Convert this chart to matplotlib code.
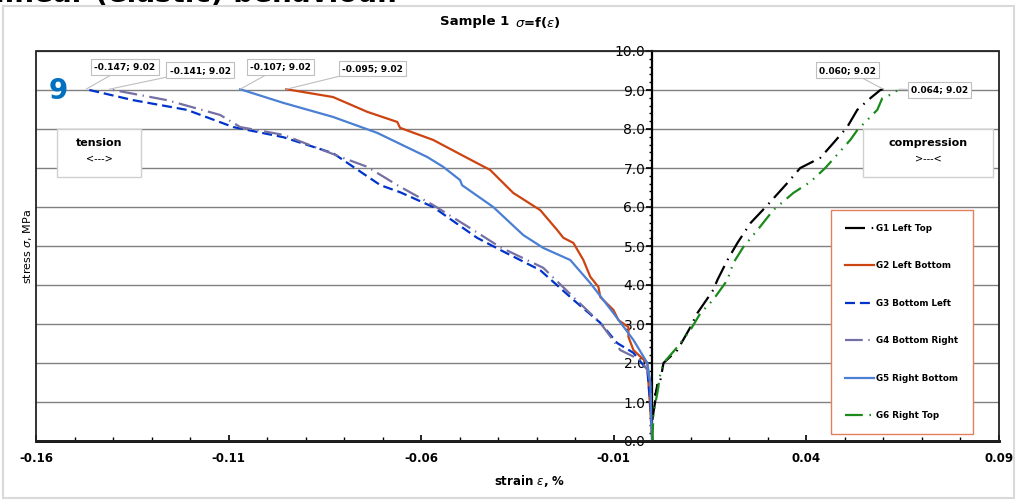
import matplotlib.pyplot as plt
import numpy as np
from matplotlib.patches import Rectangle

# strain (%) / stress (MPa) per gauge
g1_x = [0.0, 0.0008, 0.0013, 0.0008, 0.0021, 0.0029, 0.0065, 0.0099, 0.0117, 0.0158, 0.0169, 0.0195,
        0.0221, 0.0255, 0.0299, 0.0351, 0.0384, 0.0436, 0.0470, 0.0506, 0.0532, 0.0566, 0.0592, 0.060]
g1_y = [0.54, 1.05, 1.44, 1.18, 1.56, 2.0, 2.33, 2.92, 3.28, 3.87, 4.13, 4.64,
        5.08, 5.59, 6.05, 6.62, 7.0, 7.26, 7.64, 8.05, 8.49, 8.79, 9.0, 9.02]

g2_x = [0.0, -0.0010, -0.0013, -0.0049, -0.0062, -0.0062, -0.0088, -0.0101, -0.0135, -0.0140, -0.0161,
        -0.0179, -0.0205, -0.0231, -0.0247, -0.0291, -0.0361, -0.0421, -0.0481, -0.0569, -0.0655,
        -0.0662, -0.0740, -0.0829, -0.095]
g2_y = [0.0, 1.49, 2.0, 2.33, 2.67, 2.92, 3.10, 3.36, 3.69, 3.95, 4.21,
        4.64, 5.08, 5.21, 5.41, 5.92, 6.36, 6.95, 7.26, 7.72, 8.03,
        8.18, 8.44, 8.82, 9.02]

g3_x = [0.0, -0.0005, -0.0010, -0.0013, -0.0049, -0.0091, -0.0135, -0.0205, -0.0291, -0.0395, -0.0455,
        -0.0569, -0.0655, -0.0706, -0.0829, -0.0958, -0.1088, -0.1208, -0.1348, -0.147]
g3_y = [0.0, 0.97, 1.49, 1.82, 2.26, 2.51, 3.03, 3.62, 4.38, 4.90, 5.21,
        6.0, 6.38, 6.56, 7.38, 7.79, 8.05, 8.49, 8.74, 9.02]

g4_x = [0.0, -0.0003, -0.0005, -0.0013, -0.0031, -0.0083, -0.0135, -0.0205, -0.0283, -0.0395, -0.0465,
        -0.0569, -0.0662, -0.0740, -0.0803, -0.0958, -0.1070, -0.1122, -0.1260, -0.141]
g4_y = [0.0, 0.62, 1.49, 1.82, 2.08, 2.33, 3.03, 3.69, 4.44, 4.97, 5.41,
        6.05, 6.56, 7.03, 7.26, 7.85, 8.05, 8.36, 8.74, 9.02]

g5_x = [0.0, -0.0003, -0.0005, -0.0013, -0.0049, -0.0101, -0.0161, -0.0213, -0.0283, -0.0335, -0.0413,
        -0.0494, -0.0499, -0.0543, -0.0584, -0.0714, -0.0829, -0.0958, -0.107]
g5_y = [0.0, 0.62, 1.49, 2.0, 2.59, 3.28, 4.05, 4.64, 4.95, 5.28, 6.0,
        6.56, 6.69, 7.03, 7.28, 7.90, 8.31, 8.67, 9.02]

g6_x = [0.0, 0.0003, 0.0013, 0.0021, 0.0029, 0.0065, 0.0099, 0.0125, 0.0158, 0.0195, 0.0210, 0.0236,
        0.0273, 0.0314, 0.0366, 0.0410, 0.0449, 0.0514, 0.0532, 0.0558, 0.0584, 0.0597, 0.0623, 0.064]
g6_y = [0.0, 0.72, 1.23, 1.74, 2.0, 2.41, 2.85, 3.28, 3.62, 4.13, 4.56, 4.97,
        5.41, 5.92, 6.36, 6.64, 7.0, 7.72, 7.97, 8.23, 8.49, 8.79, 8.90, 9.02]

series = [
    ("G1 Left Top", g1_x, g1_y, "#000000", (0, (9, 3, 0.7, 3))),
    ("G2 Left Bottom", g2_x, g2_y, "#CC4411", "-"),
    ("G3 Bottom Left", g3_x, g3_y, "#0033CC", (0, (4.5, 2.2))),
    ("G4 Bottom Right", g4_x, g4_y, "#7470A4", (0, (8, 2.5, 0.6, 2.5))),
    ("G5 Right Bottom", g5_x, g5_y, "#4A7FD4", "-"),
    ("G6 Right Top", g6_x, g6_y, "#1A8A1A", (0, (8, 3, 0.7, 3, 0.7, 3))),
]
# label box centres for the end-point call-outs (data units)
label_pos = {
    "G1 Left Top": (0.0506, 9.51),
    "G2 Left Bottom": (-0.0727, 9.56),
    "G3 Bottom Left": (-0.1369, 9.59),
    "G4 Bottom Right": (-0.1174, 9.51),
    "G5 Right Bottom": (-0.0966, 9.59),
    "G6 Right Top": (0.0745, 9.0),
}

W, H = 1018, 500


def fx(px):
    return px / W


def fy(py):
    return 1 - py / H


fig = plt.figure(figsize=(10.18, 5.0), dpi=100)
ax = fig.add_axes([fx(36), fy(441), fx(999) - fx(36), fy(51) - fy(441)])

# outer chart frame + clipped heading above it
fig.patches.append(Rectangle((fx(3), fy(498)), fx(1014) - fx(3), fy(6) - fy(498), transform=fig.transFigure,
                             fill=False, edgecolor="#d9d9d9", lw=1.5))
fig.text(fx(-5), fy(2), "linear (elastic) behaviour.", fontsize=20, fontweight="bold", ha="left", va="baseline")

for name, x, y, c, ls in series:
    ax.plot(x, y, color=c, ls=ls, lw=1.6, label=name, zorder=3)
    ax.annotate(f"{x[-1]:.3f}; {y[-1]:.2f}", xy=(x[-1], y[-1]), xytext=label_pos[name],
                fontsize=6.5, fontweight="bold", ha="center", va="center",
                bbox=dict(boxstyle="square,pad=0.35", fc="white", ec="#bfbfbf", lw=0.8),
                arrowprops=dict(arrowstyle="-", color="#bfbfbf", lw=0.8, shrinkA=0, shrinkB=0), zorder=5)

ax.set_xlim(-0.16, 0.09)
ax.set_ylim(0, 10)
ax.set_xticks(np.arange(-0.16, 0.0901, 0.05))
ax.set_xticks(np.arange(-0.16, 0.0901, 0.01), minor=True)
ax.set_xticklabels(["-0.16", "-0.11", "-0.06", "-0.01", "0.04", "0.09"], fontweight="bold", fontsize=8.5)
ax.set_yticks(np.arange(0, 10.01, 1))
ax.set_yticks(np.arange(0, 10.01, 0.2), minor=True)
ax.set_yticklabels([f"{v:.1f}" for v in np.arange(0, 10.01, 1)], fontweight="bold", fontsize=8.5)
ax.spines["left"].set_position(("data", 0))
ax.spines["left"].set_linewidth(1.6)
ax.spines["bottom"].set_linewidth(2)
ax.spines["top"].set_visible(False)
ax.spines["right"].set_visible(False)
ax.add_patch(Rectangle((0, 0), 1, 1, transform=ax.transAxes, fill=False, edgecolor="#222222", lw=1.3,
                       clip_on=False, zorder=4))
ax.tick_params(axis="x", which="major", direction="in", length=4, width=1.2, pad=8)
ax.tick_params(axis="x", which="minor", direction="in", length=3, width=1)
ax.tick_params(axis="y", which="major", direction="out", length=4, width=1.2, pad=1)
ax.tick_params(axis="y", which="minor", direction="out", length=2.5, width=1)
ax.grid(axis="y", which="major", color="#808080", lw=1)
ax.set_axisbelow(True)

fig.text(fx(28), fy(247), r"stress $\sigma$, MPa", rotation=90, fontsize=8, ha="center", va="center")
fig.text(fx(530), fy(481), r"strain $\varepsilon$, %", fontsize=8.5, fontweight="bold", ha="center", va="center")
fig.text(fx(475), fy(22), "Sample 1", fontsize=9.5, fontweight="bold", ha="center", va="center")
fig.text(fx(538), fy(22), r"$\sigma$=f($\varepsilon$)", fontsize=9.5, fontweight="bold", ha="center", va="center")
fig.text(fx(58), fy(91), "9", fontsize=20, fontweight="bold", color="#0070C0", ha="center", va="center")

# tension / compression boxes
for x0, x1, t1, t2 in [(57, 141, "tension", "<--->"), (863, 993, "compression", ">---<")]:
    fig.patches.append(Rectangle((fx(x0), fy(177)), fx(x1) - fx(x0), fy(129) - fy(177), transform=fig.transFigure,
                                 fc="white", ec="#d0d0d0", lw=1, zorder=6))
    fig.text(fx((x0 + x1) / 2), fy(143), t1, fontsize=8, fontweight="bold", ha="center", va="center", zorder=7)
    fig.text(fx((x0 + x1) / 2), fy(158), t2, fontsize=7, ha="center", va="center", zorder=7)

leg = ax.legend(loc="upper left", bbox_to_anchor=(fx(831), fy(210)), bbox_transform=fig.transFigure,
                prop=dict(size=6.3, weight="bold"), labelspacing=3.25, handlelength=3.3, handletextpad=0.3,
                borderpad=1.6, borderaxespad=0, fancybox=False, framealpha=1)
leg.get_frame().set_edgecolor("#E0805F")
leg.get_frame().set_linewidth(1)

fig.savefig("out.png", dpi=100)
